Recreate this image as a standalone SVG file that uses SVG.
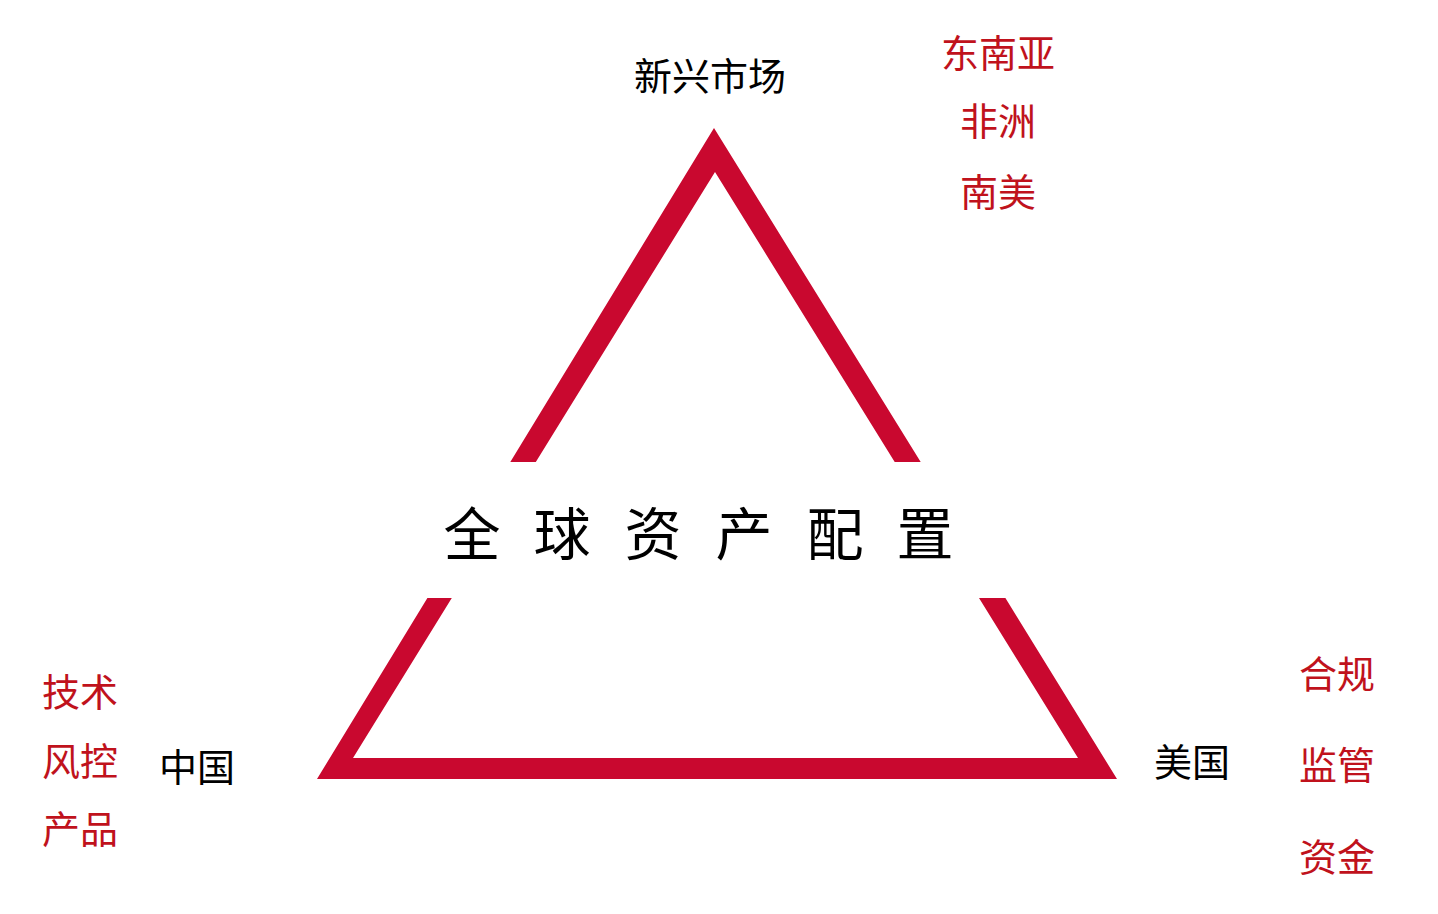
<svg xmlns="http://www.w3.org/2000/svg" width="1438" height="914" viewBox="0 0 1438 914">
<style>
.t{font-family:"Noto Sans CJK SC","Noto Sans",sans-serif;text-anchor:middle}
.lbl{font-size:38px;fill:#000}
.red{font-size:38px;fill:#c0121c}
.title{font-size:57px;fill:#000}
.tri{fill:#c9082f}
</style>
<rect width="1438" height="914" fill="#fff"/>
<g id="triangle">
<polygon class="tri" points="714,128 920.7,462 894.7,462 715,172 535.8,462 510.3,462"/>
<polygon class="tri" points="427.4,598 317,779 1117,779 1005.4,598 979,598 1078,758 353,758 451.8,598"/>
</g>
<g id="connectors"></g>
<g id="center">
<text class="t title" y="555"><tspan x="472">全</tspan><tspan x="562">球</tspan><tspan x="653">资</tspan><tspan x="744">产</tspan><tspan x="835">配</tspan><tspan x="925">置</tspan></text>
</g>
<g id="emerging">
<text class="t lbl" x="710" y="90">新兴市场</text>
<text class="t red" x="998" y="67">东南亚</text>
<text class="t red" x="998" y="135">非洲</text>
<text class="t red" x="998" y="206">南美</text>
</g>
<g id="china">
<text class="t lbl" x="197" y="781">中国</text>
<text class="t red" x="80" y="706">技术</text>
<text class="t red" x="80" y="775">风控</text>
<text class="t red" x="80" y="843">产品</text>
</g>
<g id="usa">
<text class="t lbl" x="1192" y="776">美国</text>
<text class="t red" x="1337" y="688">合规</text>
<text class="t red" x="1337" y="779">监管</text>
<text class="t red" x="1337" y="871">资金</text>
</g>
</svg>
